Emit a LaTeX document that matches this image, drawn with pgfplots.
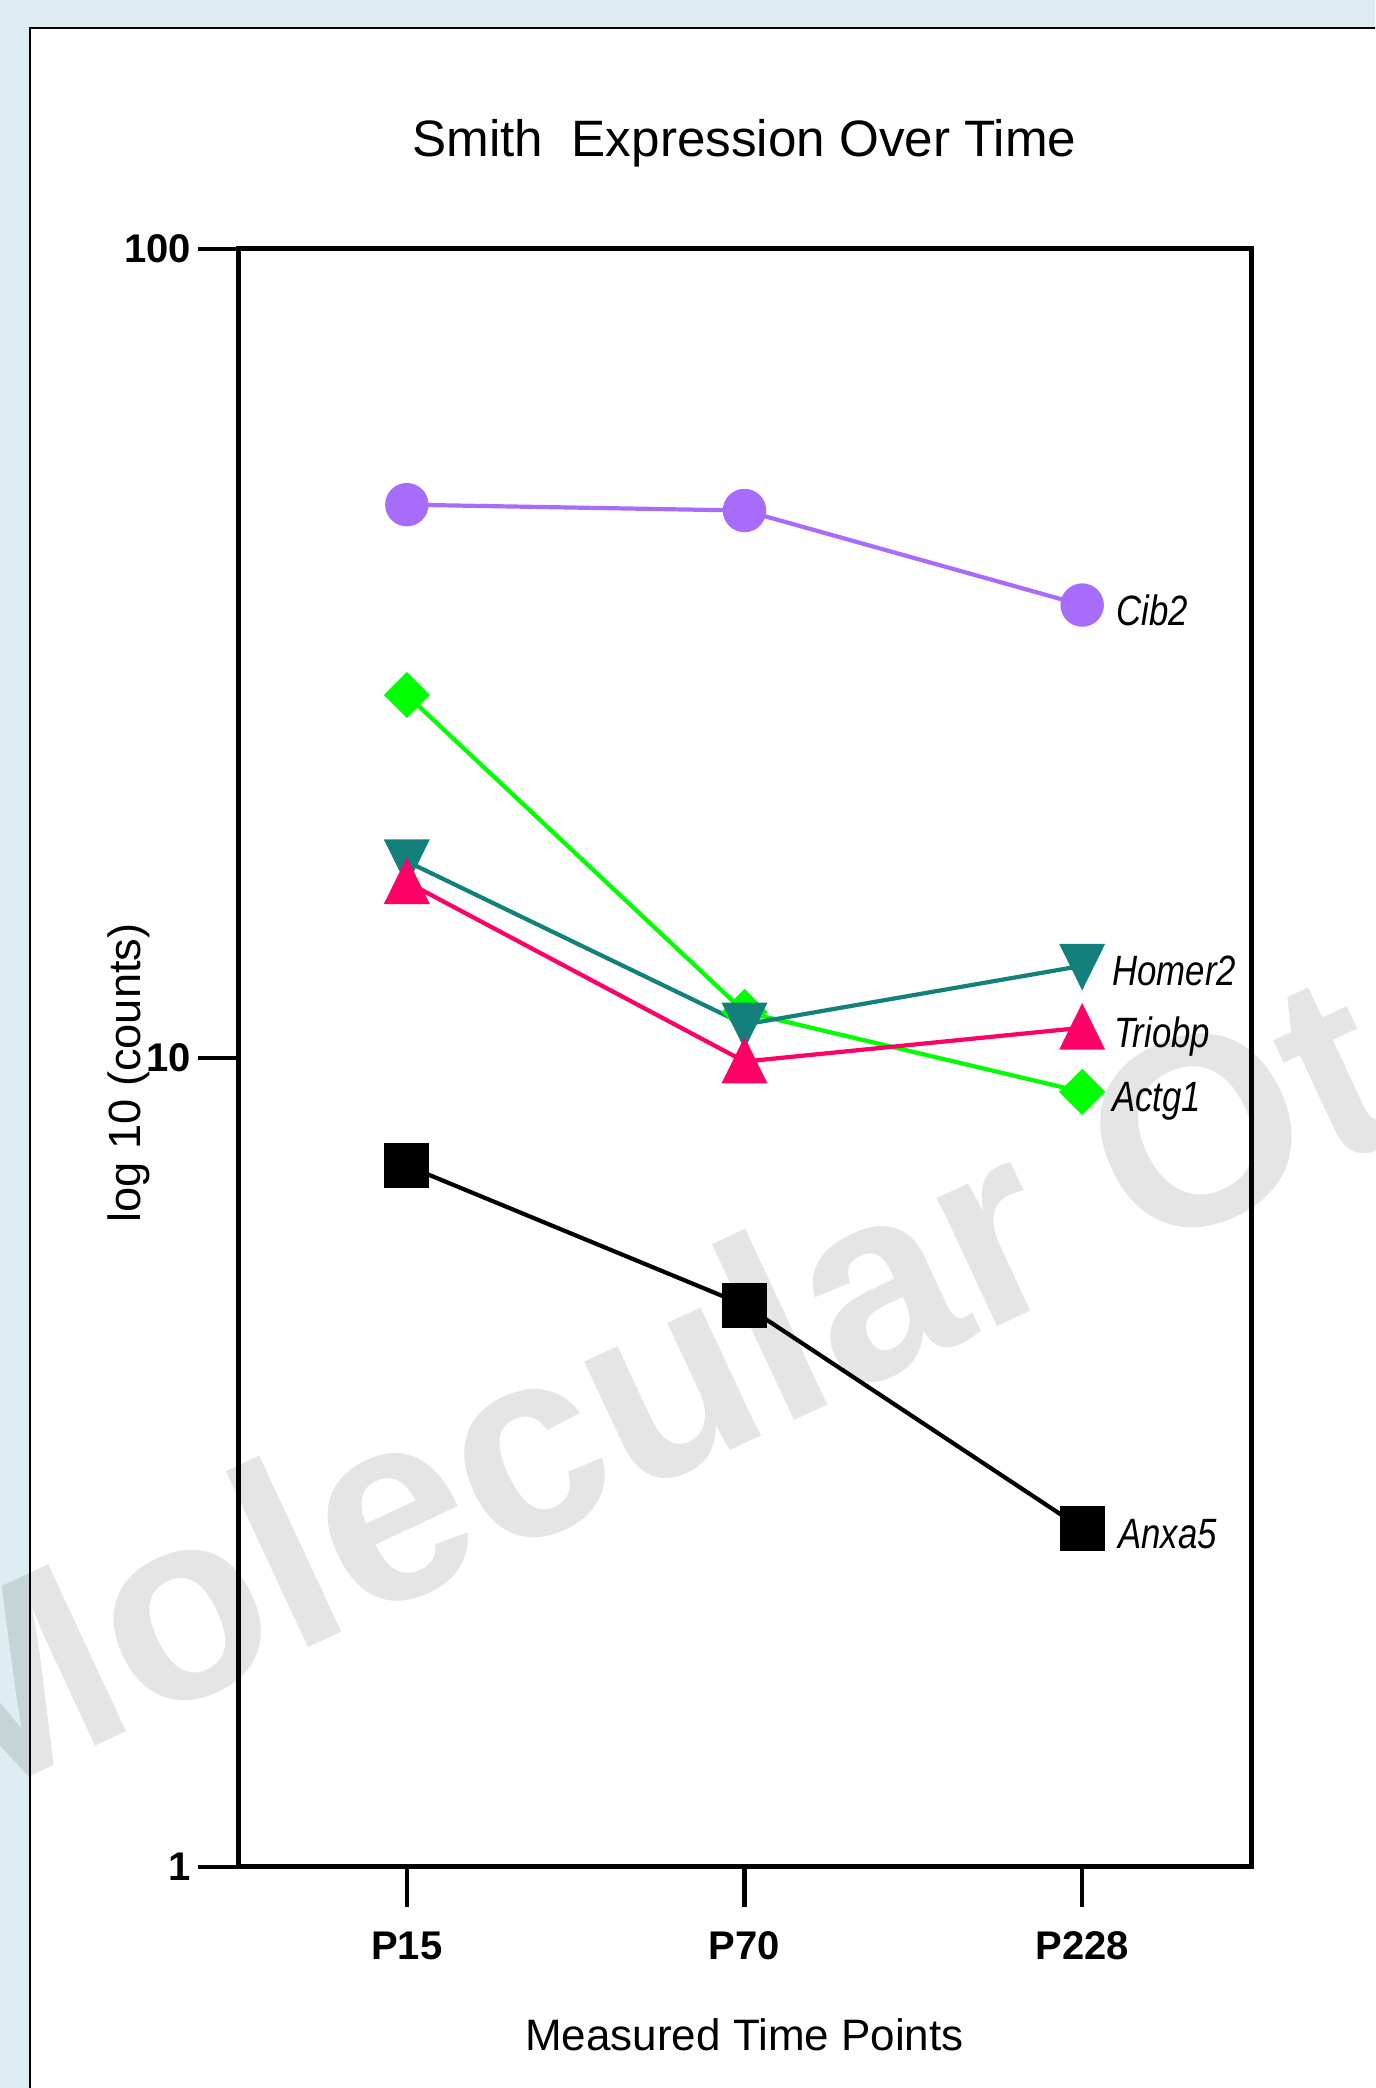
\documentclass[border=0pt]{standalone}
\usepackage{pgfplots}
\pgfplotsset{compat=1.18}
\usepackage{fontspec}
\setmainfont{Liberation Sans}
\usepackage{graphicx}

\definecolor{bgblue}{RGB}{221,237,241}
\definecolor{cibpurple}{RGB}{168,108,251}
\definecolor{actggreen}{RGB}{0,255,0}
\definecolor{homerteal}{RGB}{19,128,124}
\definecolor{triobppink}{RGB}{255,0,102}

% gene names: italic, slightly condensed
\newcommand{\genelabel}[1]{\scalebox{0.82}[1]{\fontsize{10.6}{12}\selectfont\itshape #1}}

\begin{document}
\begin{tikzpicture}
\useasboundingbox (0,0) rectangle (343.75pt,522pt);
\begin{scope}
  \clip (0,0) rectangle (343.75pt,522pt);
  \fill[bgblue] (0,0) rectangle (343.75pt,522pt);
  \fill[white] (7.5pt,-5pt) rectangle (350pt,515pt);
  \draw[line width=0.45pt] (7.5pt,-5pt) -- (7.5pt,515pt) -- (350pt,515pt);
  \node[anchor=base west, rotate=25, inner sep=0pt, opacity=0.1,
        font=\fontsize{67}{67}\selectfont\bfseries] at (-15pt,67.25pt) {Molecular Ot};
\end{scope}

\begin{axis}[
  at={(59.5pt,55.25pt)}, anchor=south west,
  scale only axis, width=253.25pt, height=404.5pt,
  ymode=log, ymin=1, ymax=100,
  xmin=-0.5, xmax=2.5,
  xtick={0,1,2}, xticklabels={P15,P70,P228},
  ytick={1,10,100}, yticklabels={1,10,100},
  yminorticks=false, xminorticks=false,
  tick align=outside, major tick length=10pt,
  xtick pos=bottom, ytick pos=left,
  axis line style={line width=1.25pt},
  every tick/.style={line width=1.15pt, black},
  tick label style={font=\fontsize{10}{12}\selectfont\bfseries},
  xticklabel style={anchor=base, inner sep=0pt, yshift=-13.25pt},
  yticklabel style={anchor=east, inner sep=0pt, xshift=-1.6pt},
  title={Smith\ \ Expression Over Time},
  title style={font=\fontsize{12.8}{15}\selectfont, anchor=base,
               at={(axis description cs:0.5,1)}, yshift=17pt},
  xlabel={Measured Time Points},
  xlabel style={font=\fontsize{11}{13}\selectfont, anchor=base,
                at={(axis description cs:0.5,0)}, yshift=-45.75pt},
  ylabel={log 10 (counts)},
  ylabel style={font=\fontsize{11.3}{13}\selectfont, anchor=center,
                at={(axis description cs:-0.1076,0.4907)}},
  clip=false,
]

% Cib2
\addplot[cibpurple, line width=1.05pt, mark=*, mark size=4.9pt, mark options={solid}]
  coordinates {(0,48.3) (1,47.5) (2,36.3)}
  node[pos=1, anchor=base west, inner sep=0pt, xshift=8pt, yshift=-5pt, text=black] {\genelabel{Cib2}};

% Anxa5
\addplot[black, line width=1.05pt, mark=square*, mark size=5.1pt]
  coordinates {(0,7.36) (1,4.95) (2,2.62)}
  node[pos=1, anchor=base west, inner sep=0pt, xshift=8.5pt, yshift=-5pt, text=black] {\genelabel{Anxa5}};

% Actg1
\addplot[actggreen, line width=1.05pt, mark=square*, mark size=3.55pt, mark options={rotate=45}]
  coordinates {(0,28.1) (1,11.4) (2,9.08)}
  node[pos=1, anchor=base west, inner sep=0pt, xshift=7pt, yshift=-5pt, text=black] {\genelabel{Actg1}};

% Homer2
\addplot[homerteal, line width=1.05pt, mark=triangle*, mark size=5.66pt, mark options={yshift=1.65pt, rotate=180, yscale=1.17}]
  coordinates {(0,17.5) (1,11.0) (2,13.0)}
  node[pos=1, anchor=base west, inner sep=0pt, xshift=7pt, yshift=-5pt, text=black] {\genelabel{Homer2}};

% Triobp
\addplot[triobppink, line width=1.05pt, mark=triangle*, mark size=5.66pt, mark options={yshift=-1.65pt, yscale=1.17}]
  coordinates {(0,16.5) (1,9.9) (2,10.9)}
  node[pos=1, anchor=base west, inner sep=0pt, xshift=7.5pt, yshift=-5pt, text=black] {\genelabel{Triobp}};

\end{axis}
\end{tikzpicture}
\end{document}
